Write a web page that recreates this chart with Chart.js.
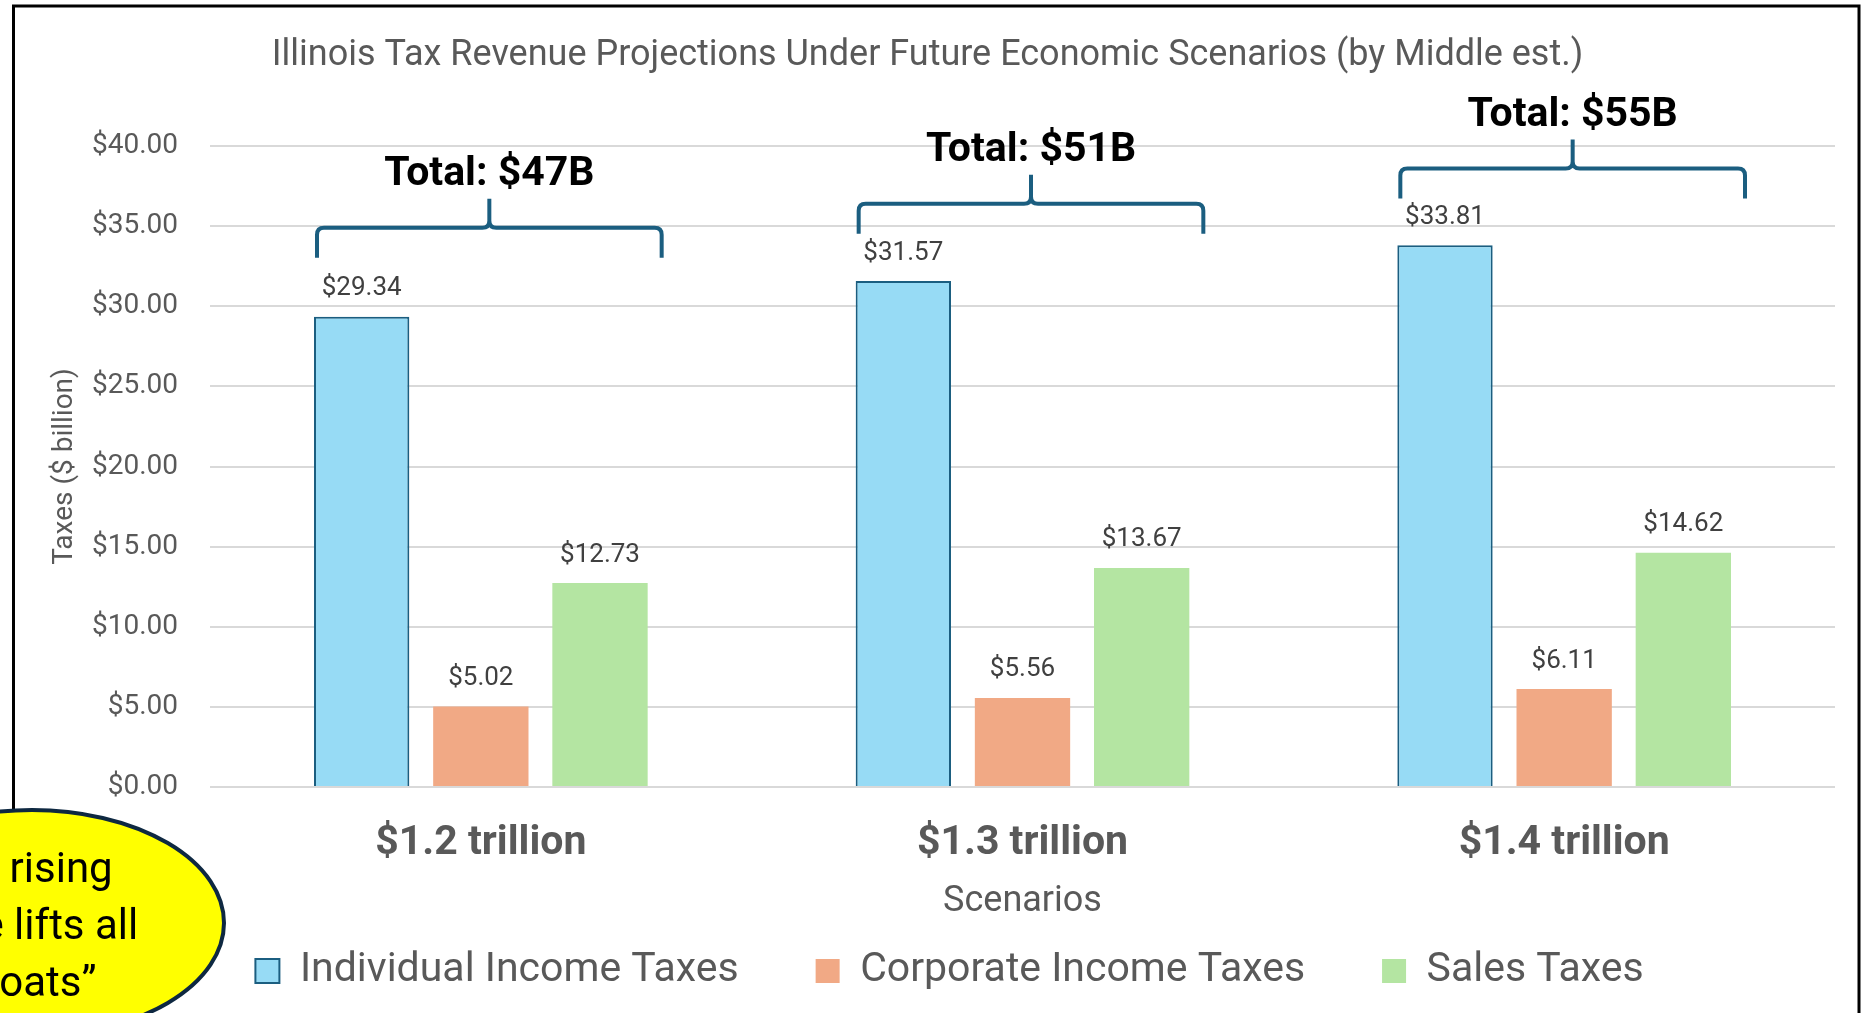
<!DOCTYPE html>
<html>
<head>
<meta charset="utf-8">
<title>Illinois Tax Revenue Projections</title>
<script src="https://cdn.jsdelivr.net/npm/chart.js@4.4.1/dist/chart.umd.min.js"></script>
<style>
    html, body { margin: 0; padding: 0; background: #fff; }
    #wrap { position: relative; width: 1863px; height: 1013px; }
</style>
</head>
<body>
<div id="wrap"><canvas id="taxChart"></canvas></div>
<script>
// Scenario categories and series ($ billion, middle estimate)
const scenarios = ['$1.2 trillion', '$1.3 trillion', '$1.4 trillion'];
const seriesNames = ['Individual Income Taxes', 'Corporate Income Taxes', 'Sales Taxes'];
const individualIncome = [29.34, 31.57, 33.81];
const corporateIncome = [5.02, 5.56, 6.11];
const salesTaxes = [12.73, 13.67, 14.62];
const yTicks = [0, 5, 10, 15, 20, 25, 30, 35, 40];

// where the "Total" braces sit, in axis units
const braceLevels = [34.9, 36.4, 38.6];
const calloutLines = ['\u201CA rising', 'tide lifts all', 'boats\u201D'];

const FONT = 'Roboto, "Liberation Sans", sans-serif';
const GRAY = '#595959';
const BRACE_COLOR = '#1B5E80';

Chart.defaults.font.family = FONT;
Chart.defaults.color = GRAY;

function drawBrace(ctx, left, right, yH) {
    const cx = (left + right) / 2;
    const r = 7;
    ctx.beginPath();
    ctx.moveTo(left, yH + 30);
    ctx.lineTo(left, yH + r);
    ctx.quadraticCurveTo(left, yH, left + r, yH);
    ctx.lineTo(cx - r, yH);
    ctx.quadraticCurveTo(cx, yH, cx, yH - r);
    ctx.lineTo(cx, yH - 29);
    ctx.moveTo(cx, yH - r);
    ctx.quadraticCurveTo(cx, yH, cx + r, yH);
    ctx.lineTo(right - r, yH);
    ctx.quadraticCurveTo(right, yH, right, yH + r);
    ctx.lineTo(right, yH + 30);
    ctx.stroke();
    return cx;
}

const overlayPlugin = {
    id: 'overlay',
    beforeDraw(chart) {
        const ctx = chart.ctx;
        ctx.save();
        ctx.fillStyle = '#fff';
        ctx.fillRect(0, 0, chart.width, chart.height);
        ctx.restore();
        // nudge the legend row a bit right, like the original
        if (!chart.legend._nudged) {
            chart.legend.left += 22;
            chart.legend.right += 22;
            chart.legend._nudged = true;
        }
    },
    afterDatasetsDraw(chart) {
        const ctx = chart.ctx;
        ctx.save();

        // value labels above bars
        ctx.font = '26px ' + FONT;
        ctx.fillStyle = '#404040';
        ctx.textAlign = 'center';
        ctx.textBaseline = 'middle';
        chart.data.datasets.forEach((ds, i) => {
            chart.getDatasetMeta(i).data.forEach((bar, j) => {
                ctx.fillText('$' + ds.data[j].toFixed(2), bar.x, bar.y - 28);
            });
        });

        // braces with totals
        const yScale = chart.scales.y;
        scenarios.forEach((_, j) => {
            const first = chart.getDatasetMeta(0).data[j];
            const last = chart.getDatasetMeta(2).data[j];
            const left = first.x - first.width / 2 + 3;
            const right = last.x + last.width / 2 + 14;
            const yH = yScale.getPixelForValue(braceLevels[j]);
            ctx.strokeStyle = BRACE_COLOR;
            ctx.lineWidth = 4;
            const cx = drawBrace(ctx, left, right, yH);

            const total = Math.round(individualIncome[j] + corporateIncome[j] + salesTaxes[j]);
            ctx.font = 'bold 41px ' + FONT;
            ctx.fillStyle = '#000';
            ctx.fillText('Total: $' + total + 'B', cx, yH - 53);
        });
        ctx.restore();
    },
    afterDraw(chart) {
        const ctx = chart.ctx;
        ctx.save();

        // outer frame
        ctx.strokeStyle = '#000';
        ctx.lineWidth = 3;
        ctx.strokeRect(13.5, 6, 1845.5, 1200);

        // yellow callout
        ctx.beginPath();
        ctx.ellipse(32, 923, 192, 113, 0, 0, Math.PI * 2);
        ctx.fillStyle = '#FFFF00';
        ctx.fill();
        ctx.lineWidth = 4;
        ctx.strokeStyle = '#0E2841';
        ctx.stroke();

        ctx.font = '42px ' + FONT;
        ctx.fillStyle = '#000';
        ctx.textAlign = 'center';
        ctx.textBaseline = 'alphabetic';
        calloutLines.forEach((line, i) => {
            ctx.fillText(line, 36, 882 + i * 57);
        });
        ctx.restore();
    }
};

const chart = new Chart(document.getElementById('taxChart'), {
    type: 'bar',
    data: {
        labels: scenarios,
        datasets: [
            { label: seriesNames[0], data: individualIncome, backgroundColor: '#97DBF5', borderColor: BRACE_COLOR, borderWidth: 2 },
            { label: seriesNames[1], data: corporateIncome, backgroundColor: '#F1A985', borderWidth: 0 },
            { label: seriesNames[2], data: salesTaxes, backgroundColor: '#B4E5A2', borderWidth: 0 }
        ]
    },
    options: {
        responsive: true,
        maintainAspectRatio: false,
        animation: false,
        datasets: { bar: { categoryPercentage: 0.66, barPercentage: 0.8 } },
        layout: { padding: { left: 20, right: 28, top: 8, bottom: 11.5 } },
        plugins: {
            title: {
                display: true,
                text: 'Illinois Tax Revenue Projections Under Future Economic Scenarios (by Middle est.)',
                color: GRAY,
                font: { size: 36, weight: 'normal' },
                padding: { top: 26.4, bottom: 68.4 }
            },
            legend: {
                position: 'bottom',
                labels: { boxWidth: 24, boxHeight: 24, padding: 77, color: GRAY, font: { size: 41 } }
            },
            tooltip: { enabled: false }
        },
        scales: {
            x: {
                grid: { display: false, drawTicks: false },
                border: { display: false },
                ticks: { color: GRAY, padding: 32, font: { size: 41, weight: 'bold' } },
                title: { display: true, text: 'Scenarios', color: GRAY, font: { size: 36 }, padding: { top: 0, bottom: -50 } },
                afterFit: scale => { scale.height = 86.5; }
            },
            y: {
                min: yTicks[0],
                max: yTicks[yTicks.length - 1],
                ticks: {
                    stepSize: yTicks[1] - yTicks[0],
                    padding: 32,
                    color: GRAY,
                    font: { size: 28 },
                    callback: v => '$' + v.toFixed(2)
                },
                grid: { color: '#D9D9D9', lineWidth: 2, drawTicks: false },
                border: { display: false },
                title: { display: true, text: 'Taxes ($ billion)', color: GRAY, font: { size: 28 }, padding: { top: 28 } },
                afterFit: scale => { scale.width = 190; }
            }
        }
    },
    plugins: [overlayPlugin]
});
</script>
</body>
</html>
